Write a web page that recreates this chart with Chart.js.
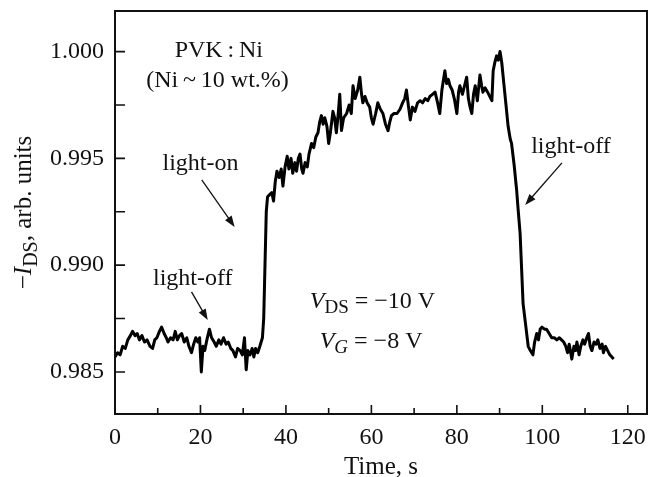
<!DOCTYPE html>
<html>
<head>
<meta charset="utf-8">
<script src="https://cdn.jsdelivr.net/npm/chart.js@4/dist/chart.umd.min.js"></script>
<style>
html,body{margin:0;padding:0;background:#fff;}
canvas{display:block;}
</style>
</head>
<body>
<canvas id="c" width="650" height="477"></canvas>
<script>
// ---- data ----
const times = [
0,0.6,1.2,1.8,2.4,3.0,3.6,4.1,4.7,5.2,5.7,6.3,6.9,7.5,8.2,8.8,9.3,9.8,10.4,10.9,
11.5,12.0,12.4,13.0,13.6,14.1,14.6,15.1,15.6,16.2,16.8,17.3,17.9,18.4,18.9,19.4,19.8,20.2,20.6,21.0,
21.5,22.1,22.6,23.2,23.7,24.3,24.8,25.4,26.0,26.5,27.1,27.6,28.2,28.7,29.3,29.8,30.3,30.7,31.1,31.6,
32.1,32.5,32.9,33.4,33.9,34.5,34.8,35.1,35.4,35.7,36.2,36.7,37.1,37.5,37.9,38.4,38.9,39.3,39.8,40.3,
40.7,41.2,41.6,42.1,42.5,42.9,43.3,43.7,44.0,44.5,45.0,45.4,46.0,46.5,47.0,47.5,47.9,48.3,48.7,49.1,
49.6,50.0,50.4,51.0,51.4,51.8,52.2,52.6,53.0,53.5,54.2,54.8,55.3,55.7,56.2,56.8,57.3,57.7,58.0,58.5,
59.0,59.6,60.0,60.4,61.0,61.5,62.1,62.7,63.3,63.9,64.3,64.7,65.3,66.0,66.7,67.3,67.8,68.2,68.7,69.1,
69.6,70.2,70.8,71.4,72.0,72.6,73.2,73.7,74.3,74.9,75.5,76.0,76.5,77.2,77.6,78.0,78.4,78.9,79.4,80.0,
80.4,80.7,81.3,81.8,82.3,82.7,83.1,83.5,83.9,84.3,84.8,85.4,85.8,86.1,86.6,87.2,87.7,88.2,88.5,88.9,
89.3,89.7,90.1,90.5,91.0,91.5,92.0,92.5,92.8,93.4,94.0,94.3,94.8,95.5,96.1,96.7,97.2,97.8,98.2,98.7,
99.1,99.5,99.9,100.5,101.0,101.6,102.2,102.8,103.4,104.0,104.5,105.0,105.5,105.9,106.3,106.9,107.4,107.8,108.1,108.6,
109.0,109.5,109.9,110.4,110.8,111.2,111.6,112.1,112.6,113.0,113.5,114.0,114.3,114.8,115.3,115.8,116.7
];
const current = [
0.9857,0.9859,0.9858,0.9862,0.9861,0.9865,0.9867,0.9869,0.9867,0.9868,0.9865,0.9867,0.9864,0.9865,0.9862,0.9861,0.9865,0.9866,0.9869,0.9871,
0.9868,0.9866,0.9864,0.9866,0.9865,0.9869,0.9865,0.9867,0.9868,0.9864,0.9866,0.9862,0.9859,0.9863,0.9866,0.9864,0.9866,0.9850,0.9862,0.9860,
0.9865,0.9870,0.9866,0.9864,0.9862,0.9865,0.9863,0.9866,0.9863,0.9864,0.9861,0.9860,0.9857,0.9861,0.9860,0.9858,0.9866,0.9851,0.9860,0.9858,
0.9861,0.9857,0.9861,0.9859,0.9862,0.9866,0.9875,0.9900,0.9925,0.9932,0.9933,0.9934,0.9930,0.9939,0.9944,0.9941,0.9945,0.9937,0.9946,0.9951,
0.9945,0.9950,0.9943,0.9948,0.9944,0.9950,0.9952,0.9945,0.9943,0.9948,0.9946,0.9952,0.9957,0.9955,0.9960,0.9962,0.9967,0.9970,0.9966,0.9969,
0.9965,0.9957,0.9962,0.9972,0.9969,0.9962,0.9970,0.9980,0.9963,0.9969,0.9971,0.9975,0.9971,0.9984,0.9978,0.9982,0.9988,0.9980,0.9976,0.9979,
0.9976,0.9974,0.9969,0.9966,0.9971,0.9976,0.9973,0.9971,0.9966,0.9963,0.9967,0.9970,0.9971,0.9971,0.9973,0.9976,0.9978,0.9982,0.9974,0.9968,
0.9974,0.9972,0.9976,0.9977,0.9976,0.9978,0.9977,0.9979,0.9980,0.9981,0.9976,0.9971,0.9982,0.9991,0.9985,0.9987,0.9984,0.9982,0.9978,0.9971,
0.9981,0.9984,0.9980,0.9984,0.9988,0.9978,0.9974,0.9971,0.9980,0.9984,0.9977,0.9989,0.9984,0.9981,0.9983,0.9981,0.9979,0.9977,0.9991,0.9995,
0.9998,0.9996,1.0000,0.9995,0.9985,0.9975,0.9965,0.9959,0.9957,0.9947,0.9935,0.9927,0.9915,0.9882,0.9872,0.9862,0.9860,0.9858,0.9864,0.9868,
0.9865,0.9870,0.9871,0.9870,0.9870,0.9868,0.9866,0.9866,0.9865,0.9866,0.9865,0.9864,0.9862,0.9859,0.9863,0.9856,0.9862,0.9860,0.9864,0.9858,
0.9862,0.9865,0.9863,0.9866,0.9868,0.9862,0.9860,0.9864,0.9863,0.9865,0.9861,0.9863,0.9859,0.9862,0.9860,0.9858,0.9856
];
const xTicks = [0,20,40,60,80,100,120];
const xMinorTicks = [10,30,50,70,90,110];
const yTicks = [0.985,0.990,0.995,1.000];
const yMinorTicks = [0.9875,0.9925,0.9975];
const xTitle = 'Time, s';
const yTitleRuns = [{t:'\u2212'},{t:'I',i:true},{t:'DS',sub:true},{t:', arb. units'}];
const notes = [
  {x:24.3, y:0.99975, runs:[{t:'PVK\u2009:\u2009Ni'}], align:'center'},
  {x:24.0, y:0.99834, runs:[{t:'(Ni\u2009~\u200910 wt.%)'}], align:'center'},
  {x:20.0, y:0.99446, runs:[{t:'light-on'}], align:'center'},
  {x:18.2, y:0.98907, runs:[{t:'light-off'}], align:'center'},
  {x:106.7, y:0.99525, runs:[{t:'light-off'}], align:'center'},
  {x:45.6, y:0.98800, runs:[{t:'V',i:true},{t:'DS',sub:true},{t:' = \u221210 V'}], align:'left'},
  {x:47.9, y:0.98613, runs:[{t:'V',i:true},{t:'G',sub:true,i:true},{t:' = \u22128 V'}], align:'left'}
];
const arrows = [
  {x0:20.3, y0:0.99399, x1:28.0, y1:0.99179},
  {x0:17.9, y0:0.98875, x1:21.7, y1:0.98743},
  {x0:104.6, y0:0.99479, x1:96.0, y1:0.99282}
];

const FONT = 'Liberation Serif';
const points = times.map((t,k)=>({x:t, y:current[k]}));

function drawRuns(ctx, runs, x, y, size, align){
  const subSize = Math.round(size*0.8);
  const fontFor = r => (r.i?'italic ':'') + (r.sub?subSize:size) + 'px "' + FONT + '"';
  let w = 0;
  runs.forEach(r=>{ctx.font = fontFor(r); w += ctx.measureText(r.t).width;});
  let cx = align==='center' ? x - w/2 : x;
  ctx.textBaseline = 'alphabetic';
  ctx.textAlign = 'left';
  runs.forEach(r=>{
    ctx.font = fontFor(r);
    ctx.fillText(r.t, cx, r.sub ? y + size*0.22 : y);
    cx += ctx.measureText(r.t).width;
  });
}

const decor = {
  id:'decor',
  afterDraw(chart){
    const ctx = chart.ctx, a = chart.chartArea, xs = chart.scales.x, ys = chart.scales.y;
    ctx.save();
    ctx.strokeStyle = '#111'; ctx.fillStyle = '#111';
    ctx.lineWidth = 2;
    ctx.strokeRect(a.left, a.top, a.right-a.left, a.bottom-a.top);
    ctx.lineWidth = 1.6;
    ctx.beginPath();
    xTicks.forEach(v=>{const p=xs.getPixelForValue(v); ctx.moveTo(p,a.bottom); ctx.lineTo(p,a.bottom-9);});
    xMinorTicks.forEach(v=>{const p=xs.getPixelForValue(v); ctx.moveTo(p,a.bottom); ctx.lineTo(p,a.bottom-6);});
    yTicks.concat(yMinorTicks).forEach(v=>{const p=ys.getPixelForValue(v); ctx.moveTo(a.left,p); ctx.lineTo(a.left+10,p);});
    ctx.stroke();
    notes.forEach(n=>drawRuns(ctx, n.runs, xs.getPixelForValue(n.x), ys.getPixelForValue(n.y), 24, n.align));
    arrows.forEach(ar=>{
      const x0=xs.getPixelForValue(ar.x0), y0=ys.getPixelForValue(ar.y0);
      const x1=xs.getPixelForValue(ar.x1), y1=ys.getPixelForValue(ar.y1);
      const ang=Math.atan2(y1-y0,x1-x0), L=11, W=4;
      ctx.lineWidth=1.3;
      ctx.beginPath(); ctx.moveTo(x0,y0); ctx.lineTo(x1-Math.cos(ang)*L*0.8,y1-Math.sin(ang)*L*0.8); ctx.stroke();
      ctx.beginPath();
      ctx.moveTo(x1,y1);
      ctx.lineTo(x1-Math.cos(ang)*L - Math.sin(ang)*W, y1-Math.sin(ang)*L + Math.cos(ang)*W);
      ctx.lineTo(x1-Math.cos(ang)*L + Math.sin(ang)*W, y1-Math.sin(ang)*L - Math.cos(ang)*W);
      ctx.closePath(); ctx.fill();
    });
    drawRuns(ctx, [{t:xTitle}], (a.left+a.right)/2, 474, 25, 'center');
    ctx.translate(31, (a.top+a.bottom)/2);
    ctx.rotate(-Math.PI/2);
    drawRuns(ctx, yTitleRuns, 0, 0, 25, 'center');
    ctx.restore();
  }
};

new Chart(document.getElementById('c'), {
  type:'line',
  data:{datasets:[{data:points, borderColor:'#000', borderWidth:3, pointRadius:0, tension:0, fill:false, borderJoinStyle:'round'}]},
  options:{
    responsive:false, animation:false, devicePixelRatio:1,
    layout:{padding:{top:11, right:3, left:0, bottom:0}},
    plugins:{legend:{display:false}, tooltip:{enabled:false}},
    scales:{
      x:{type:'linear', min:0, max:124.5,
         afterBuildTicks:s=>{s.ticks = xTicks.map(v=>({value:v}));},
         afterFit:s=>{s.height = 63; s.paddingLeft = 0; s.paddingRight = 0;},
         grid:{display:false, drawTicks:false}, border:{display:false},
         ticks:{font:{family:FONT, size:24}, color:'#111', padding:9, maxRotation:0, autoSkip:false}},
      y:{type:'linear', min:0.98303, max:1.00190,
         afterBuildTicks:s=>{s.ticks = yTicks.map(v=>({value:v}));},
         afterFit:s=>{s.width = 115; s.paddingTop = 0; s.paddingBottom = 0;},
         grid:{display:false, drawTicks:false}, border:{display:false},
         ticks:{font:{family:FONT, size:24}, color:'#111', padding:11, autoSkip:false,
                callback:v=>Number(v).toFixed(3)}}
    }
  },
  plugins:[decor]
});
</script>
</body>
</html>
